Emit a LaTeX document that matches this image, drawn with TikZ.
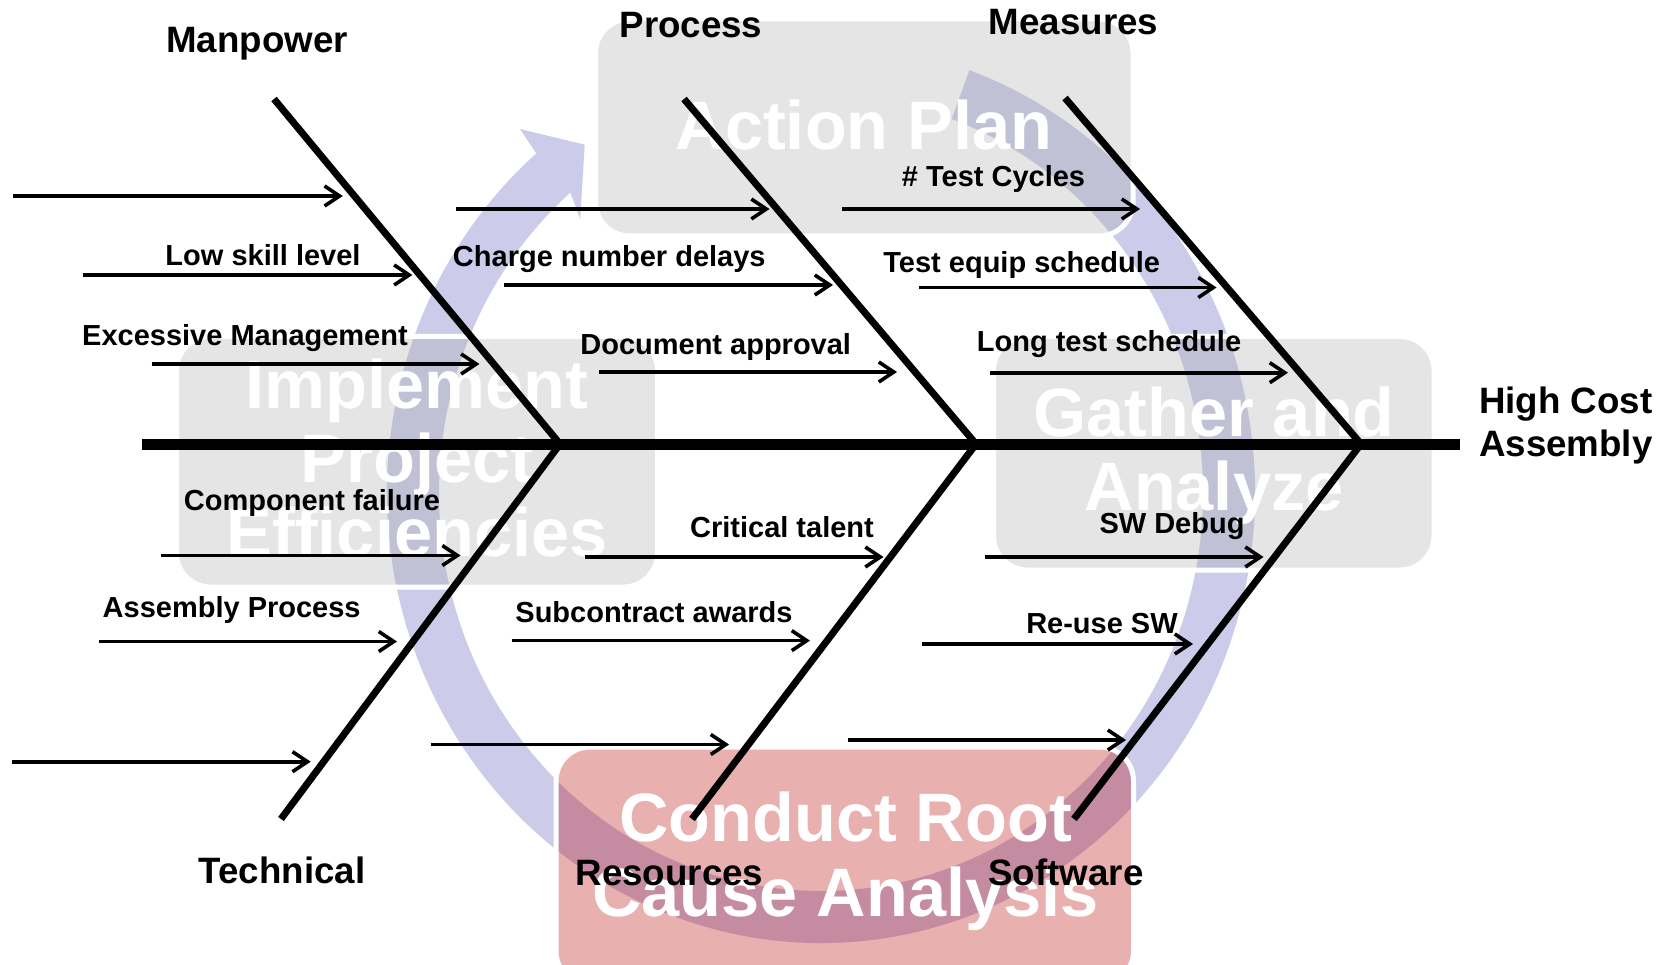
\documentclass[tikz,border=0pt]{standalone}
\usepackage{fontspec}
\setmainfont{Liberation Sans}
\usetikzlibrary{arrows.meta,calc}

\definecolor{ringblue}{RGB}{204,204,234}
\definecolor{boxgray}{RGB}{171,171,171}
\definecolor{boxred}{RGB}{184,0,0}

\tikzset{
  stagebox/.style={fill=boxgray, fill opacity=0.31, draw=white, line width=5pt, rounded corners=34pt},
  stagered/.style={stagebox, fill=boxred},
  bigtext/.style={text=white, font=\fontsize{68.5}{74}\selectfont\bfseries, anchor=base, inner sep=0pt},
  catlabel/.style={font=\fontsize{36.7}{43}\selectfont\bfseries, anchor=base, inner sep=0pt},
  causelabel/.style={font=\fontsize{29}{35}\selectfont\bfseries, anchor=base, inner sep=0pt},
  spineline/.style={line width=11pt},
  boneline/.style={line width=7pt, line join=miter},
  causearrow/.style={line width=3.6pt, -{Straight Barb[length=15pt,width=20pt]}},
}

\begin{document}
\begin{tikzpicture}[x=1pt,y=-1pt]
\useasboundingbox (0,0) rectangle (1675,965);
\clip (0,0) rectangle (1675,965);

% ---- cycle arrow behind everything ----
\coordinate (cyc) at (821,493);
\fill[ringblue] ($(cyc)+(-70:434 and 450)$)
  arc[start angle=-70, end angle=229, x radius=434, y radius=450]
  -- (520,129) -- (584.7,144.7) -- (580.2,219.1)
  -- ($(cyc)+(229:382 and 398)$)
  arc[start angle=229, end angle=-70, x radius=382, y radius=398]
  -- cycle;

% ---- stage boxes ----
\draw[stagebox] (595.5,19) rectangle (1133,236);
\draw[stagebox] (176.5,336.5) rectangle (657.5,587);
\draw[stagebox] (993.5,336.5) rectangle (1434,570);
\draw[stagered] (556,747) rectangle (1133.5,985);

\node[bigtext] (plan) at (864,150) {Action Plan};
\node[bigtext] (impl1) at (417,408) {Implement};
\node[bigtext] (impl2) at (417,482) {Project};
\node[bigtext] (impl3) at (417,556) {Efficiencies};
\node[bigtext] (gath1) at (1214,436) {Gather and};
\node[bigtext] (gath2) at (1214,510.5) {Analyze};
\node[bigtext] (rca1) at (845.5,841.7) {Conduct Root};
\node[bigtext] (rca2) at (845.5,916.7) {Cause Analysis};

% ---- fishbone: spine and bones ----
\coordinate (spineL) at (142,444);
\coordinate (spineR) at (1460,444);
\coordinate (j1) at (560,444);
\coordinate (j2) at (976,444);
\coordinate (j3) at (1361,444);
\coordinate (mpT) at (274,99);
\coordinate (prT) at (684,99);
\coordinate (meT) at (1065,98);
\coordinate (teB) at (281,819);
\coordinate (reB) at (692,819);
\coordinate (swB) at (1074,819);

\draw[spineline] (spineL) -- (spineR);
\draw[boneline] (mpT) -- (j1) -- (teB);
\draw[boneline] (prT) -- (j2) -- (reB);
\draw[boneline] (meT) -- (j3) -- (swB);

% ---- category labels ----
\node[catlabel] (manpower) at (257,53) {Manpower};
\node[catlabel] (process) at (691,38) {Process};
\node[catlabel] (measures) at (1073.5,35) {Measures};
\node[catlabel] (technical) at (282,883) {Technical};
\node[catlabel] (resources) at (669.5,885) {Resources};
\node[catlabel] (software) at (1066,885) {Software};
\node[catlabel, anchor=base west] (effect1) at (1479,413) {High Cost};
\node[catlabel, anchor=base west] (effect2) at (1479,456.5) {Assembly};

% ---- cause arrows ----
\foreach \n/\xs/\xe/\y in {
  a1/13.4/342.8/196, a2/83/412.4/275, a3/151.6/479.4/364,
  b1/456/769.6/209, b2/504/833/285, b3/599/897/372,
  c1/842/1140/209, c2/919/1216.5/287.5, c3/990/1288/372.7,
  d1/160.7/460.6/555.5, d2/99/397/641.5, d3/11.8/310.7/761.7,
  e1/585.4/883.5/557, e2/511.6/810/640.6, e3/431/729/744.5,
  f1/985/1263.5/557, f2/922.3/1193/644, f3/847.5/1126/740}{
  \coordinate (\n-s) at (\xs,\y);
  \coordinate (\n-e) at (\xe,\y);
  \draw[causearrow] (\n-s) -- (\n-e);
}

% ---- cause labels ----
\node[causelabel] (lowskill) at (263,266) {Low skill level};
\node[causelabel] (excmgmt) at (245,345) {Excessive Management};
\node[causelabel] (charge) at (609.3,266.5) {Charge number delays};
\node[causelabel] (docappr) at (715.7,354) {Document approval};
\node[causelabel] (testcyc) at (993.5,186.4) {\# Test Cycles};
\node[causelabel] (testequip) at (1021.7,273) {Test equip schedule};
\node[causelabel] (longtest) at (1109,352) {Long test schedule};
\node[causelabel] (compfail) at (312,510) {Component failure};
\node[causelabel] (asmproc) at (231.7,617) {Assembly Process};
\node[causelabel] (crittal) at (782,537) {Critical talent};
\node[causelabel] (subcon) at (654,622) {Subcontract awards};
\node[causelabel] (swdebug) at (1172,533) {SW Debug};
\node[causelabel] (reuse) at (1102,633) {Re-use SW};
\end{tikzpicture}
\end{document}
